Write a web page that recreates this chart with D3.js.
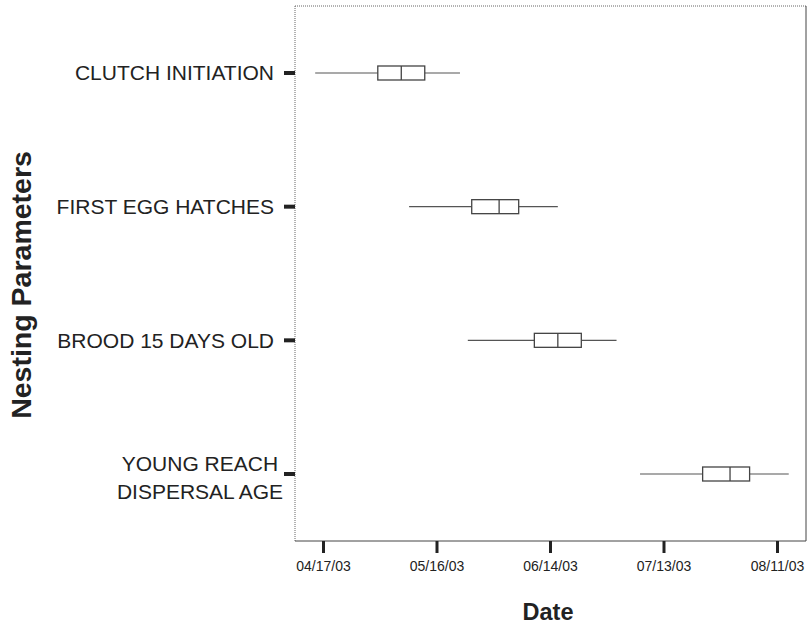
<!DOCTYPE html>
<html>
<head>
<meta charset="utf-8">
<script src="https://cdn.jsdelivr.net/npm/d3@7"></script>
<style>
  html, body { margin: 0; padding: 0; background: #fff; }
  svg { display: block; font-family: "Liberation Sans", Arial, sans-serif; }
</style>
</head>
<body>
<div id="chart"></div>
<script>
// Nesting parameters box plot (dates)
const categories = [
  "CLUTCH INITIATION",
  "FIRST EGG HATCHES",
  "BROOD 15 DAYS OLD",
  "YOUNG REACH\nDISPERSAL AGE",
];
const whiskerLow = ["04/15/03", "05/09/03", "05/24/03", "07/07/03"];
const quartile1 = ["05/01/03", "05/25/03", "06/10/03", "07/23/03"];
const medians = ["05/07/03", "06/01/03", "06/16/03", "07/30/03"];
const quartile3 = ["05/13/03", "06/06/03", "06/22/03", "08/04/03"];
const whiskerHigh = ["05/22/03", "06/16/03", "07/01/03", "08/14/03"];
const tickLabels = ["04/17/03", "05/16/03", "06/14/03", "07/13/03", "08/11/03"];

const W = 808, H = 626;
const frame = { left: 295, top: 6, right: 806, bottom: 541 };

const parse = d3.utcParse("%m/%d/%y");
const fmt = d3.utcFormat("%m/%d/%y");
const ticks = tickLabels.map(parse);

const boxes = categories.map((c, i) => ({
  name: c,
  lo: parse(whiskerLow[i]),
  q1: parse(quartile1[i]),
  med: parse(medians[i]),
  q3: parse(quartile3[i]),
  hi: parse(whiskerHigh[i]),
}));

const x = d3.scaleUtc()
  .domain([ticks[0], ticks[ticks.length - 1]])
  .range([323, 777]);

const y = d3.scalePoint()
  .domain(categories)
  .range([73, 474]);

const svg = d3.select("#chart")
  .append("svg")
  .attr("width", W)
  .attr("height", H);

svg.append("rect").attr("width", W).attr("height", H).attr("fill", "#fff");

// plot frame: top/left dotted, bottom/right solid
const fr = svg.append("g").attr("class", "frame");
fr.append("line")
  .attr("x1", frame.left).attr("x2", frame.right)
  .attr("y1", frame.top).attr("y2", frame.top)
  .attr("stroke", "#666").attr("stroke-dasharray", "1,1");
fr.append("line")
  .attr("x1", frame.left).attr("x2", frame.left)
  .attr("y1", frame.top).attr("y2", frame.bottom)
  .attr("stroke", "#666").attr("stroke-dasharray", "1,1");
fr.append("line")
  .attr("x1", frame.left).attr("x2", frame.right)
  .attr("y1", frame.bottom).attr("y2", frame.bottom)
  .attr("stroke", "#444");
fr.append("line")
  .attr("x1", frame.right).attr("x2", frame.right)
  .attr("y1", frame.top).attr("y2", frame.bottom)
  .attr("stroke", "#444");

// x axis
const xAxis = d3.axisBottom(x)
  .tickValues(ticks)
  .tickFormat(fmt)
  .tickSize(12)
  .tickPadding(8);

const gx = svg.append("g")
  .attr("transform", `translate(0,${frame.bottom})`)
  .call(xAxis);
gx.select(".domain").remove();
gx.selectAll(".tick line").attr("stroke", "#222").attr("stroke-width", 3);
gx.selectAll(".tick text")
  .attr("font-size", "14px")
  .attr("font-family", "Liberation Sans, Arial, sans-serif")
  .attr("fill", "#222");

// y ticks
const gy = svg.append("g");
gy.selectAll("line")
  .data(categories)
  .enter()
  .append("line")
  .attr("x1", frame.left - 11)
  .attr("x2", frame.left)
  .attr("y1", (d) => y(d))
  .attr("y2", (d) => y(d))
  .attr("stroke", "#222")
  .attr("stroke-width", 4);

// category labels
const labelRight = 274;
categories.forEach((c) => {
  const lines = c.split("\n");
  const t = svg.append("text")
    .attr("font-size", "21px")
    .attr("fill", "#222");
  if (lines.length === 1) {
    t.attr("x", labelRight)
      .attr("y", y(c))
      .attr("dy", "0.35em")
      .attr("text-anchor", "end")
      .text(c);
  } else {
    const spans = t.selectAll("tspan")
      .data(lines)
      .enter()
      .append("tspan")
      .text((d) => d);
    const maxW = d3.max(spans.nodes(), (n) => n.getComputedTextLength());
    const cx = labelRight + 9 - maxW / 2;
    spans
      .attr("x", cx)
      .attr("text-anchor", "middle")
      .attr("y", (d, i) => y(c) - 3 + i * 28);
  }
});

// boxes
const boxH = 14;
const g = svg.append("g")
  .selectAll(".box")
  .data(boxes)
  .enter()
  .append("g")
  .attr("class", "box")
  .attr("transform", (d) => `translate(0,${y(d.name)})`);

g.append("line")
  .attr("x1", (d) => x(d.lo))
  .attr("x2", (d) => x(d.q1))
  .attr("stroke", "#555")
  .attr("stroke-width", 1.2);

g.append("line")
  .attr("x1", (d) => x(d.q3))
  .attr("x2", (d) => x(d.hi))
  .attr("stroke", "#555")
  .attr("stroke-width", 1.2);

g.append("rect")
  .attr("x", (d) => x(d.q1))
  .attr("y", -boxH / 2)
  .attr("width", (d) => x(d.q3) - x(d.q1))
  .attr("height", boxH)
  .attr("fill", "#fff")
  .attr("stroke", "#444")
  .attr("stroke-width", 1.3);

g.append("line")
  .attr("x1", (d) => x(d.med))
  .attr("x2", (d) => x(d.med))
  .attr("y1", -boxH / 2)
  .attr("y2", boxH / 2)
  .attr("stroke", "#444")
  .attr("stroke-width", 1.3);

// axis titles
svg.append("text")
  .attr("x", 548)
  .attr("y", 620)
  .attr("text-anchor", "middle")
  .attr("font-size", "23.5px")
  .attr("font-weight", "bold")
  .attr("fill", "#222")
  .text("Date");

svg.append("text")
  .attr("transform", "translate(31,285) rotate(-90)")
  .attr("text-anchor", "middle")
  .attr("font-size", "28.5px")
  .attr("font-weight", "bold")
  .attr("fill", "#222")
  .text("Nesting Parameters");
</script>
</body>
</html>
